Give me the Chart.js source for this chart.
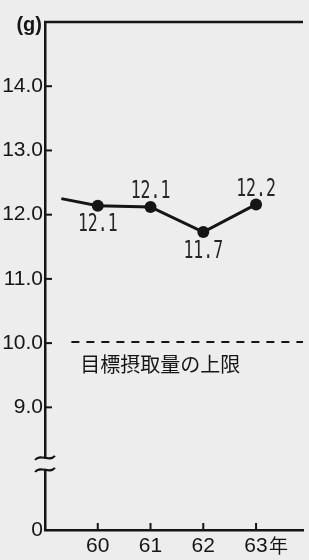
<!DOCTYPE html>
<html>
<head>
<meta charset="utf-8">
<script src="https://cdn.jsdelivr.net/npm/chart.js@4/dist/chart.umd.min.js"></script>
<style>
    html, body { margin: 0; padding: 0; background: #ededed; }
    #wrap { width: 309px; height: 560px; }
</style>
</head>
<body>
<div id="wrap"><canvas id="chart" width="309" height="560"></canvas></div>
<script>
// year values (first one is the stub running in from the previous year)
const years = [59.31, 60, 61, 62, 63];
const intake = [12.25, 12.14, 12.12, 11.73, 12.16];
const labelSide = [null, 'below', 'above', 'below', 'above'];
const yearTicks = [60, 61, 62, 63];
const valueTicks = [9, 10, 11, 12, 13, 14];
const upperLimit = 10.0;
const limitText = '目標摂取量の上限';
const unitText = '(g)';
const yearSuffix = '年';

const INK = '#151515';
const BG = '#ededed';
const LATIN = '"Liberation Sans", Arial, sans-serif';
const MONO = '"DejaVu Sans Mono", monospace';
const CJK = '"Noto Sans CJK JP", sans-serif';

const yMin = 7.09, yMax = 15.0;
const breakAt = 8.12;

/** Draws inward ticks, the top frame line, the limit line, labels and the axis break. */
const decorations = {
    id: 'decorations',
    afterDraw(chart) {
        const ctx = chart.ctx;
        const xs = chart.scales.x, ys = chart.scales.y;
        const area = chart.chartArea;
        ctx.save();
        ctx.strokeStyle = INK;
        ctx.fillStyle = INK;

        // top frame line
        ctx.lineWidth = 2.5;
        ctx.beginPath();
        ctx.moveTo(area.left - 1, ys.getPixelForValue(yMax));
        ctx.lineTo(area.right, ys.getPixelForValue(yMax));
        ctx.stroke();

        // inward ticks
        ctx.lineWidth = 2;
        valueTicks.forEach(v => {
            const y = ys.getPixelForValue(v);
            ctx.beginPath();
            ctx.moveTo(area.left, y);
            ctx.lineTo(area.left + 7, y);
            ctx.stroke();
        });
        yearTicks.forEach(v => {
            const x = xs.getPixelForValue(v);
            ctx.beginPath();
            ctx.moveTo(x, area.bottom);
            ctx.lineTo(x, area.bottom - 7);
            ctx.stroke();
        });

        // year suffix after last tick label
        const lastX = xs.getPixelForValue(yearTicks[yearTicks.length - 1]);
        ctx.font = '19px ' + CJK;
        ctx.textAlign = 'left';
        ctx.textBaseline = 'middle';
        ctx.fillText(yearSuffix, lastX + 13, area.bottom + 16);

        // unit
        ctx.font = 'bold 20px ' + LATIN;
        ctx.textAlign = 'right';
        ctx.fillText(unitText, area.left - 3, ys.getPixelForValue(yMax) + 3);

        // dashed upper limit line
        const ly = ys.getPixelForValue(upperLimit) - 1;
        ctx.lineWidth = 2;
        ctx.setLineDash([8, 7]);
        ctx.beginPath();
        ctx.moveTo(xs.getPixelForValue(59.5), ly);
        ctx.lineTo(area.right, ly);
        ctx.stroke();
        ctx.setLineDash([]);
        ctx.font = '20px ' + CJK;
        ctx.textAlign = 'left';
        ctx.fillText(limitText, xs.getPixelForValue(59.67), ly + 22);

        // data labels, narrowed to match the condensed print type
        const meta = chart.getDatasetMeta(0);
        ctx.font = '25px ' + MONO;
        ctx.fillStyle = '#262626';
        ctx.textAlign = 'center';
        meta.data.forEach((pt, i) => {
            if (!labelSide[i]) return;
            const dy = labelSide[i] === 'below' ? 19 : -15;
            ctx.save();
            ctx.translate(pt.x, pt.y + dy);
            ctx.scale(0.66, 1);
            ctx.fillText(intake[i].toFixed(1), 0, 0);
            ctx.restore();
        });

        // axis break
        const by = ys.getPixelForValue(breakAt);
        ctx.fillStyle = BG;
        ctx.fillRect(area.left - 3, by - 5, 6, 10);
        ctx.lineWidth = 2;
        [-6, 6].forEach(off => {
            const y = by + off;
            ctx.beginPath();
            ctx.moveTo(area.left - 10, y + 2);
            ctx.bezierCurveTo(area.left - 4, y - 5, area.left + 4, y + 5, area.left + 10, y - 2);
            ctx.stroke();
        });
        ctx.restore();
    }
};

new Chart(document.getElementById('chart'), {
    type: 'line',
    data: {
        datasets: [{
            data: years.map((x, i) => ({ x: x, y: intake[i] })),
            borderColor: INK,
            backgroundColor: INK,
            borderWidth: 3,
            pointRadius: years.map((x, i) => labelSide[i] ? 6 : 0),
            pointBackgroundColor: INK,
            pointBorderWidth: 0,
            lineTension: 0
        }]
    },
    options: {
        responsive: false,
        animation: false,
        layout: { padding: { top: 22, right: 0, left: 0, bottom: 0 } },
        plugins: { legend: { display: false }, tooltip: { enabled: false } },
        scales: {
            x: {
                type: 'linear',
                min: 59.0,
                max: 63.89,
                afterBuildTicks: s => { s.ticks = yearTicks.map(v => ({ value: v })); },
                afterFit: s => { s.height = 30; },
                grid: { drawOnChartArea: false, drawTicks: false },
                border: { color: INK, width: 2.5 },
                ticks: {
                    color: INK,
                    padding: 4,
                    maxRotation: 0,
                    autoSkip: false,
                    font: { family: LATIN, size: 21 },
                    callback: v => String(v)
                }
            },
            y: {
                type: 'linear',
                min: yMin,
                max: yMax,
                afterBuildTicks: s => {
                    s.ticks = [{ value: yMin }].concat(valueTicks.map(v => ({ value: v })));
                },
                afterFit: s => { s.width = 45; },
                grid: { drawOnChartArea: false, drawTicks: false },
                border: { color: INK, width: 2.5 },
                ticks: {
                    color: INK,
                    padding: 2,
                    autoSkip: false,
                    font: { family: LATIN, size: 21 },
                    callback: v => (v === yMin ? '0' : v.toFixed(1))
                }
            }
        }
    },
    plugins: [decorations]
});
</script>
</body>
</html>
